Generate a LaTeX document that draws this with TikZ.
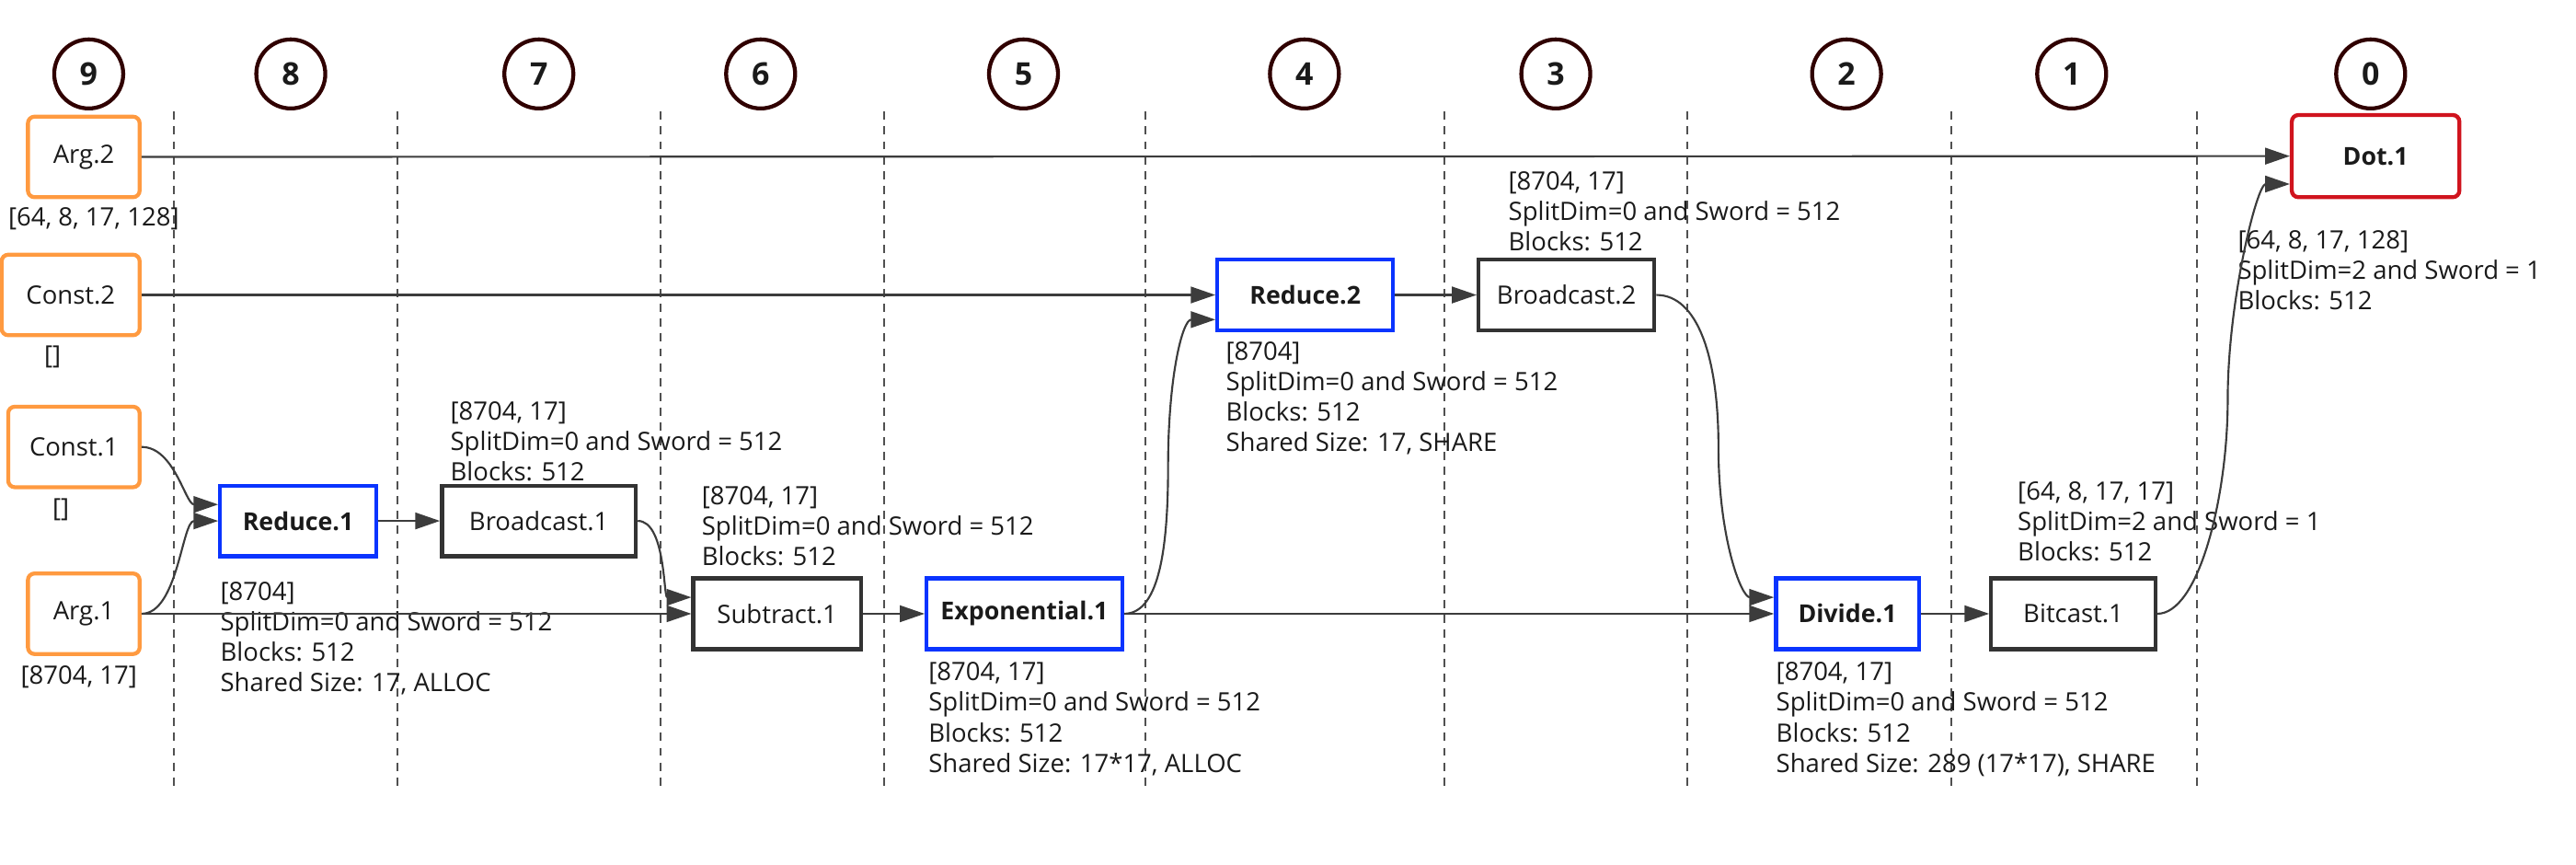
\documentclass[tikz,border=0pt]{standalone}
\usepackage{fontspec}
\setmainfont{Open Sans}
\usetikzlibrary{arrows.meta,shapes.geometric}
\definecolor{edgec}{HTML}{3C3C3C}
\definecolor{lanegray}{HTML}{505050}
\definecolor{stepbrown}{HTML}{300000}
\definecolor{inorange}{HTML}{FF9A40}
\definecolor{opgray}{HTML}{333333}
\definecolor{keyblue}{HTML}{0A34FF}
\definecolor{outred}{HTML}{D0141E}
\definecolor{txt}{HTML}{1A1A1A}
\begin{document}
\begin{tikzpicture}[x=1pt,y=1pt,
  every node/.style={font=\fontsize{15.4}{18.5}\selectfont, text=txt},
  stepc/.style={circle, draw=stepbrown, line width=2.4pt, minimum size=42pt, inner sep=0pt, font=\fontsize{19}{22}\selectfont\bfseries},
  inbox/.style={draw=inorange, line width=2.4pt, rounded corners=4pt, fill=white, inner sep=0pt, minimum height=49pt},
  opbox/.style={draw=opgray, line width=2.4pt, fill=white, inner sep=0pt, minimum height=43pt},
  keybox/.style={draw=keyblue, line width=2.4pt, fill=white, inner sep=0pt, minimum height=43pt, font=\fontsize{15}{18.5}\selectfont\bfseries},
  outbox/.style={draw=outred, line width=2.4pt, rounded corners=4pt, fill=white, inner sep=0pt, minimum height=50pt, font=\fontsize{15}{18.5}\selectfont\bfseries},
  info/.style={anchor=north west, align=left, inner sep=0pt},
  shapelbl/.style={anchor=center, inner sep=0pt},
  conn/.style={draw=edgec, line width=1.2pt, -{Triangle[length=15pt,width=10pt]}},
  lane/.style={draw=lanegray, line width=1.1pt, dash pattern=on 5pt off 4pt}
]
\useasboundingbox (0,0) rectangle (1568,-526.4);

% lanes
\foreach \lx in {106,242,402,538,697,879,1027,1188,1337}
  \draw[lane] (\lx,-68) -- (\lx,-479);

% step markers
\node[stepc] (s9) at (54,-45) {9};
\node[stepc] (s8) at (177,-45) {8};
\node[stepc] (s7) at (328,-45) {7};
\node[stepc] (s6) at (463,-45) {6};
\node[stepc] (s5) at (623,-45) {5};
\node[stepc] (s4) at (794,-45) {4};
\node[stepc] (s3) at (947,-45) {3};
\node[stepc] (s2) at (1124,-45) {2};
\node[stepc] (s1) at (1261,-45) {1};
\node[stepc] (s0) at (1443,-45) {0};

% inputs
\node[inbox, minimum width=68pt] (arg2) at (51,-95.5) {Arg.2};
\node[inbox, minimum width=84pt] (const2) at (43,-179.5) {Const.2};
\node[inbox, minimum width=80pt] (const1) at (45,-272) {Const.1};
\node[inbox, minimum width=68pt] (arg1) at (51,-373.5) {Arg.1};

% ops
\node[keybox, minimum width=95pt] (red1) at (181.5,-317) {Reduce.1};
\node[opbox, minimum width=118pt] (bc1) at (328,-317) {Broadcast.1};
\node[opbox, minimum width=102pt] (sub1) at (473,-373.5) {Subtract.1};
\node[keybox, minimum width=119pt] (exp1) at (623.5,-373.5) {Exponential.1};
\node[keybox, minimum width=107pt] (red2) at (794.5,-179.5) {Reduce.2};
\node[opbox, minimum width=107pt] (bc2) at (953.5,-179.5) {Broadcast.2};
\node[keybox, minimum width=87pt] (div1) at (1124.5,-373.5) {Divide.1};
\node[opbox, minimum width=100pt] (bit1) at (1262,-373.5) {Bitcast.1};
\node[outbox, minimum width=102pt] (dot1) at (1446,-95) {Dot.1};

% shape labels of inputs
\node[shapelbl] (larg2) at (57,-133) {[64, 8, 17, 128]};
\node[shapelbl] (lconst2) at (32,-217) {[]};
\node[shapelbl] (lconst1) at (37,-310) {[]};
\node[shapelbl] (larg1) at (48,-412) {[8704, 17]};

% info labels
\node[info] (ired1) at (134,-354) {[8704]\\SplitDim=0 and Sword = 512\\Blocks: 512\\Shared Size: 17, ALLOC};
\node[info] (ibc1) at (274,-244) {[8704, 17]\\SplitDim=0 and Sword = 512\\Blocks: 512};
\node[info] (isub1) at (427,-296) {[8704, 17]\\SplitDim=0 and Sword = 512\\Blocks: 512};
\node[info] (iexp1) at (565,-403) {[8704, 17]\\SplitDim=0 and Sword = 512\\Blocks: 512\\Shared Size: 17*17, ALLOC};
\node[info] (ired2) at (746,-208) {[8704]\\SplitDim=0 and Sword = 512\\Blocks: 512\\Shared Size: 17, SHARE};
\node[info] (ibc2) at (918,-104) {[8704, 17]\\SplitDim=0 and Sword = 512\\Blocks: 512};
\node[info] (idiv1) at (1081,-403) {[8704, 17]\\SplitDim=0 and Sword = 512\\Blocks: 512\\Shared Size: 289 (17*17), SHARE};
\node[info] (ibit1) at (1228,-293) {[64, 8, 17, 17]\\SplitDim=2 and Sword = 1\\Blocks: 512};
\node[info] (idot1) at (1362,-140) {[64, 8, 17, 128]\\SplitDim=2 and Sword = 1\\Blocks: 512};

% bend points of the long curved connectors
\coordinate (me1) at (711,-284);
\coordinate (mb2) at (1046,-272);
\coordinate (mt1) at (1356,-243);

% connectors
\draw[conn] (arg2.east) -- (dot1.west);
\draw[conn] (const2.east) -- (red2.west);
\draw[conn] (const1.east) to[out=0,in=180,distance=20pt] ([yshift=10pt]red1.west);
\draw[conn] (arg1.east) to[out=0,in=180,distance=22pt] (red1.west);
\draw[conn] (arg1.east) -- (sub1.west);
\draw[conn] (red1.east) -- (bc1.west);
\draw[conn] (bc1.east) to[out=0,in=180,distance=17pt] ([yshift=10pt]sub1.west);
\draw[conn] (sub1.east) -- (exp1.west);
\draw[conn] (exp1.east) to[out=0,in=-90,out distance=20pt,in distance=55pt] (me1)
  to[out=90,in=180,out distance=55pt,in distance=20pt] ([yshift=-15pt]red2.west);
\draw[conn] (exp1.east) -- (div1.west);
\draw[conn] (red2.east) -- (bc2.west);
\draw[conn] (bc2.east) to[out=0,in=90,out distance=25pt,in distance=55pt] (mb2)
  to[out=-90,in=180,out distance=55pt,in distance=20pt] ([yshift=10pt]div1.west);
\draw[conn] (div1.east) -- (bit1.west);
\draw[conn] (bit1.east) to[out=0,in=-90,out distance=25pt,in distance=60pt] (mt1)
  to[out=90,in=180,out distance=60pt,in distance=20pt] ([yshift=-17pt]dot1.west);
\end{tikzpicture}
\end{document}
